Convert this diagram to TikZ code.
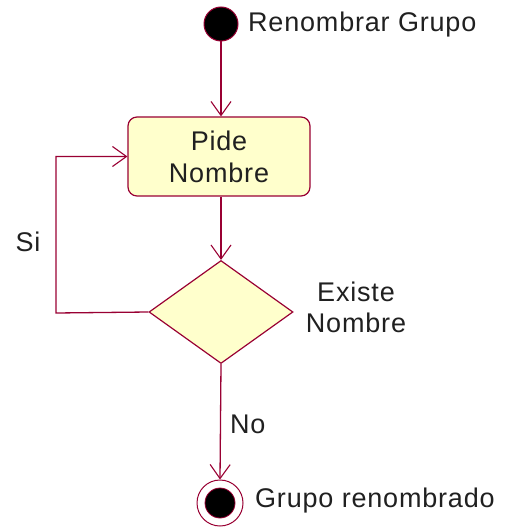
\documentclass[tikz,border=0pt]{standalone}
\usepackage{fontspec}
\setmainfont{Liberation Sans}[LetterSpace=3]
\usetikzlibrary{shapes.geometric,arrows.meta}
\definecolor{umlred}{HTML}{990033}
\definecolor{umlfill}{HTML}{FFFFCC}
\definecolor{txt}{HTML}{202020}
\tikzset{
  conn/.style={draw=umlred, line width=1.3pt, -{Straight Barb[length=14pt,width=20pt,line width=1.1pt]}},
  lbl/.style={text=txt, font=\fontsize{27}{31}\selectfont, inner sep=0pt},
  actbox/.style={rectangle, rounded corners=9pt, draw=umlred, line width=1.2pt, fill=umlfill,
    minimum width=182pt, minimum height=79pt, inner sep=0pt, align=center, text=txt,
    font=\fontsize{27}{32}\selectfont},
  decision/.style={diamond, draw=umlred, line width=1.2pt, fill=umlfill, minimum width=144pt,
    minimum height=103pt, inner sep=0pt},
}
\begin{document}
\begin{tikzpicture}[x=1pt,y=-1pt]
\useasboundingbox (0,0) rectangle (510,529);
\node[circle, fill=black, draw=umlred, line width=1pt, minimum size=34pt, inner sep=0pt] (start) at (221,24) {};
\node[lbl, anchor=west] (startlbl) at (248,25) {Renombrar Grupo};
\node[actbox] (box) at (219,156.5) {Pide\\Nombre};
\node[decision] (dec) at (221,312) {};
\node[lbl, align=center] (declbl) at (356,307) {Existe\\Nombre};
\node[circle, draw=umlred, line width=1pt, fill=white, minimum size=46pt, inner sep=0pt] (end) at (220,503) {};
\node[circle, fill=black, draw=umlred, line width=0.8pt, minimum size=30pt, inner sep=0pt] (endin) at (220,503) {};
\node[lbl, anchor=west] (endlbl) at (255,501) {Grupo renombrado};
\coordinate (lb) at (56,313);
\coordinate (lt) at (56,156.5);
\draw[conn] (start) -- (start |- box.north);
\draw[conn] (box.south -| dec.north) -- (dec.north);
\draw[conn] (dec.west) -- (lb) -- (lt) -- (box.west);
\draw[conn] (dec.south) -- (end.north);
\node[lbl] (si) at (28,242) {Si};
\node[lbl, anchor=west] (no) at (230,424) {No};
\end{tikzpicture}
\end{document}
